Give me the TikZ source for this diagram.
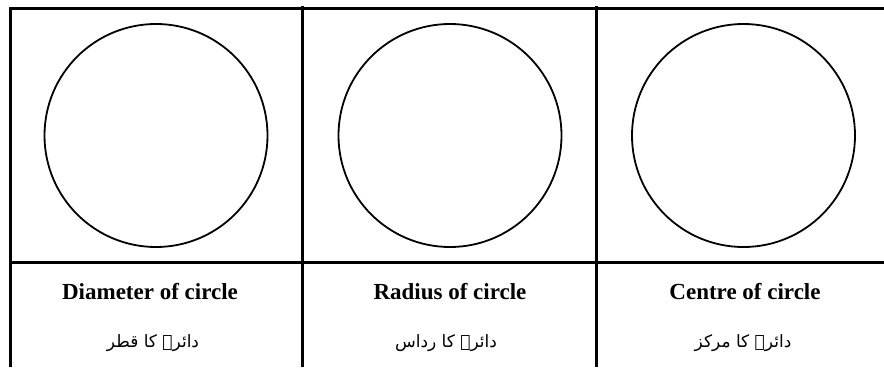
\documentclass[tikz,border=0pt]{standalone}
\usepackage{fontspec}
\setmainfont{Liberation Serif}
\newfontfamily\urdufont[Script=Arabic]{DejaVu Sans}
\TeXXeTstate=1
\usetikzlibrary{positioning}
\newlength{\ringsize}
\setlength{\ringsize}{223pt}
\tikzset{rule/.style={line width=3pt}}
\tikzset{ring/.style={draw, circle, line width=1.8pt, minimum size=\ringsize, inner sep=0pt}}
\tikzset{caption/.style={font=\bfseries\fontsize{23}{27}\selectfont, inner sep=0pt}}
\tikzset{urdu/.style={font=\urdufont\fontsize{17}{20}\selectfont, inner sep=0pt}}

\begin{document}
\begin{tikzpicture}[x=1pt, y=-1pt]
	\useasboundingbox (0,0) rectangle (884,367);
	
	%%% TABLE %%%
	\draw[rule] (10,8) -- (884,8);
	\draw[rule] (10,6.5) -- (10,367);
	\draw[rule] (302,6) -- (302,367);
	\draw[rule] (596,6) -- (596,367);
	\draw[rule] (10,262) -- (884,262);
	
	%%% NODES %%%
	
	% CIRCLES
	\node[ring] at (156,135.5) (diacircle) {};
	\node[ring] at (450,135.5) (radcircle) {};
	\node[ring] at (743.5,135.5) (cencircle) {};
	
	% CAPTIONS
	\node[caption] at (150,292) (diatext) {Diameter of circle};
	\node[caption] at (450,292) (radtext) {Radius of circle};
	\node[caption] at (745,292) (centext) {Centre of circle};
	
	% URDU
	\node[urdu] at (153,343) (diaurdu) {\beginR دائرے کا قطر\endR};
	\node[urdu] at (446,343) (radurdu) {\beginR دائرے کا رداس\endR};
	\node[urdu] at (743,343) (cenurdu) {\beginR دائرے کا مرکز\endR};
	
\end{tikzpicture}
\end{document}
